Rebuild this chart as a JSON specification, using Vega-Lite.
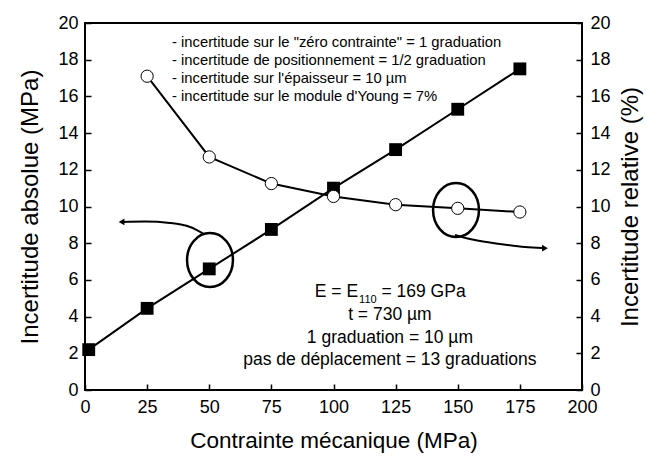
{
  "$schema": "https://vega.github.io/schema/vega-lite/v6.json",
  "width": 497,
  "height": 367,
  "autosize": {"type": "none"},
  "padding": {"left": 85, "top": 23, "right": 64, "bottom": 75},
  "background": "white",
  "config": {
    "view": {"stroke": "black", "strokeWidth": 2},
    "font": "Liberation Sans",
    "axis": {
      "domain": false, "ticks": true, "tickColor": "black", "tickWidth": 1.5, "tickOpacity": 1, "zindex": 1,
      "labelFont": "Liberation Sans", "labelFontSize": 18, "labelColor": "black",
      "titleFont": "Liberation Sans", "titleFontSize": 22.5, "titleFontWeight": "normal", "titleColor": "black",
      "grid": false, "labelOverlap": false, "labelFlush": false
    }
  },
  "datasets": {
    "main": [
      {"x": 1.5, "abs": 2.2, "rel": null},
      {"x": 25, "abs": 4.45, "rel": 17.1},
      {"x": 50, "abs": 6.6, "rel": 12.7},
      {"x": 75, "abs": 8.75, "rel": 11.25},
      {"x": 100, "abs": 11.0, "rel": 10.55},
      {"x": 125, "abs": 13.1, "rel": 10.1},
      {"x": 150, "abs": 15.3, "rel": 9.9},
      {"x": 175, "abs": 17.5, "rel": 9.7}
    ],
    "xmaj": [{"v": 25}, {"v": 50}, {"v": 75}, {"v": 100}, {"v": 125}, {"v": 150}, {"v": 175}],
    "xmin": [{"v": 12.5}, {"v": 37.5}, {"v": 62.5}, {"v": 87.5}, {"v": 112.5}, {"v": 137.5}, {"v": 162.5}, {"v": 187.5}],
    "ymaj": [{"v": 2}, {"v": 4}, {"v": 6}, {"v": 8}, {"v": 10}, {"v": 12}, {"v": 14}, {"v": 16}, {"v": 18}],
    "ymin": [{"v": 1}, {"v": 3}, {"v": 5}, {"v": 7}, {"v": 9}, {"v": 11}, {"v": 13}, {"v": 15}, {"v": 17}, {"v": 19}],
    "arrows": [
      {"id": "a", "x": 14.9, "y": 9.16},
      {"id": "a", "x": 24.1, "y": 9.18},
      {"id": "a", "x": 34.2, "y": 9.1},
      {"id": "a", "x": 42.3, "y": 8.88},
      {"id": "a", "x": 47.9, "y": 8.5},
      {"id": "b", "x": 148.9, "y": 8.45},
      {"id": "b", "x": 156.9, "y": 8.17},
      {"id": "b", "x": 167.0, "y": 7.96},
      {"id": "b", "x": 177.1, "y": 7.79},
      {"id": "b", "x": 184.3, "y": 7.74}
    ],
    "heads": [
      {"x": 14.7, "y": 9.16, "shape": "triangle-left"},
      {"x": 185.1, "y": 7.73, "shape": "triangle-right"}
    ],
    "ellipses": [
      {"x": 50.3, "y": 7.08},
      {"x": 149.3, "y": 9.81}
    ],
    "notes": [
      {"x": 35, "y": 18.91, "label": "- incertitude sur le \"zéro contrainte\" = 1 graduation"},
      {"x": 35, "y": 17.93, "label": "- incertitude de positionnement = 1/2 graduation"},
      {"x": 35, "y": 16.95, "label": "- incertitude sur l'épaisseur = 10 µm"},
      {"x": 35, "y": 15.97, "label": "- incertitude sur le module d'Young = 7%"}
    ],
    "params": [
      {"x": 122.7, "y": 4.09, "label": "t = 730 µm"},
      {"x": 122.7, "y": 2.83, "label": "1 graduation = 10 µm"},
      {"x": 122.7, "y": 1.63, "label": "pas de déplacement = 13 graduations"}
    ],
    "eline": [
      {"x": 109.9, "y": 5.34, "label": "E = E", "part": "a"},
      {"x": 110.3, "y": 4.9, "label": "110", "part": "b"},
      {"x": 119.3, "y": 5.34, "label": "= 169 GPa", "part": "c"}
    ]
  },
  "encoding": {
    "x": {"field": "x", "type": "quantitative", "scale": {"domain": [0, 200], "nice": false, "zero": false}, "axis": null},
    "y": {"field": "y", "type": "quantitative", "scale": {"domain": [0, 20], "nice": false}, "axis": null}
  },
  "layer": [
    {
      "data": {"name": "xmaj"},
      "mark": {"type": "rule", "color": "black", "strokeWidth": 2, "opacity": 1},
      "encoding": {
        "x": {"field": "v", "type": "quantitative", "scale": {"domain": [0, 200], "nice": false, "zero": false}, "axis": null},
        "y": {"datum": 0, "type": "quantitative", "scale": {"domain": [0, 20], "nice": false}, "axis": null},
        "y2": {"datum": 0.36}
      }
    },
    {
      "data": {"name": "xmaj"},
      "mark": {"type": "rule", "color": "black", "strokeWidth": 2, "opacity": 1},
      "encoding": {
        "x": {"field": "v", "type": "quantitative", "scale": {"domain": [0, 200], "nice": false, "zero": false}, "axis": null},
        "y": {"datum": 20, "type": "quantitative", "scale": {"domain": [0, 20], "nice": false}, "axis": null},
        "y2": {"datum": 19.64}
      }
    },
    {
      "data": {"name": "xmin"},
      "mark": {"type": "rule", "color": "black", "strokeWidth": 2, "opacity": 1},
      "encoding": {
        "x": {"field": "v", "type": "quantitative", "scale": {"domain": [0, 200], "nice": false, "zero": false}, "axis": null},
        "y": {"datum": 0, "type": "quantitative", "scale": {"domain": [0, 20], "nice": false}, "axis": null},
        "y2": {"datum": 0.2}
      }
    },
    {
      "data": {"name": "xmin"},
      "mark": {"type": "rule", "color": "black", "strokeWidth": 2, "opacity": 1},
      "encoding": {
        "x": {"field": "v", "type": "quantitative", "scale": {"domain": [0, 200], "nice": false, "zero": false}, "axis": null},
        "y": {"datum": 20, "type": "quantitative", "scale": {"domain": [0, 20], "nice": false}, "axis": null},
        "y2": {"datum": 19.8}
      }
    },
    {
      "data": {"name": "ymaj"},
      "mark": {"type": "rule", "color": "black", "strokeWidth": 2, "opacity": 1},
      "encoding": {
        "x": {"datum": 0, "type": "quantitative", "scale": {"domain": [0, 200], "nice": false, "zero": false}, "axis": null},
        "x2": {"datum": 2.7},
        "y": {"field": "v", "type": "quantitative", "scale": {"domain": [0, 20], "nice": false}, "axis": null}
      }
    },
    {
      "data": {"name": "ymaj"},
      "mark": {"type": "rule", "color": "black", "strokeWidth": 2, "opacity": 1},
      "encoding": {
        "x": {"datum": 200, "type": "quantitative", "scale": {"domain": [0, 200], "nice": false, "zero": false}, "axis": null},
        "x2": {"datum": 197.3},
        "y": {"field": "v", "type": "quantitative", "scale": {"domain": [0, 20], "nice": false}, "axis": null}
      }
    },
    {
      "data": {"name": "ymin"},
      "mark": {"type": "rule", "color": "black", "strokeWidth": 2, "opacity": 1},
      "encoding": {
        "x": {"datum": 0, "type": "quantitative", "scale": {"domain": [0, 200], "nice": false, "zero": false}, "axis": null},
        "x2": {"datum": 1.5},
        "y": {"field": "v", "type": "quantitative", "scale": {"domain": [0, 20], "nice": false}, "axis": null}
      }
    },
    {
      "data": {"name": "ymin"},
      "mark": {"type": "rule", "color": "black", "strokeWidth": 2, "opacity": 1},
      "encoding": {
        "x": {"datum": 200, "type": "quantitative", "scale": {"domain": [0, 200], "nice": false, "zero": false}, "axis": null},
        "x2": {"datum": 198.5},
        "y": {"field": "v", "type": "quantitative", "scale": {"domain": [0, 20], "nice": false}, "axis": null}
      }
    },
    {
      "data": {"name": "main"},
      "mark": {"type": "line", "color": "black", "strokeWidth": 2},
      "encoding": {"y": {"field": "abs", "type": "quantitative", "scale": {"domain": [0, 20], "nice": false}, "axis": null}}
    },
    {
      "data": {"name": "main"},
      "mark": {"type": "point", "shape": "square", "filled": true, "color": "black", "size": 165, "opacity": 1},
      "encoding": {"y": {"field": "abs", "type": "quantitative", "scale": {"domain": [0, 20], "nice": false}, "axis": null}}
    },
    {
      "data": {"name": "main"},
      "transform": [{"filter": "datum.rel != null"}],
      "mark": {"type": "line", "color": "black", "strokeWidth": 2},
      "encoding": {"y": {"field": "rel", "type": "quantitative", "scale": {"domain": [0, 20], "nice": false}, "axis": null}}
    },
    {
      "data": {"name": "main"},
      "transform": [{"filter": "datum.rel != null"}],
      "mark": {"type": "point", "shape": "circle", "filled": true, "fill": "white", "stroke": "black", "strokeWidth": 1, "size": 150, "opacity": 1},
      "encoding": {"y": {"field": "rel", "type": "quantitative", "scale": {"domain": [0, 20], "nice": false}, "axis": null}}
    },
    {
      "data": {"name": "arrows"},
      "mark": {"type": "line", "color": "black", "strokeWidth": 2, "interpolate": "monotone"},
      "encoding": {"detail": {"field": "id"}}
    },
    {
      "data": {"name": "heads"},
      "mark": {"type": "point", "filled": true, "color": "black", "size": 45, "opacity": 1},
      "encoding": {"shape": {"field": "shape", "type": "nominal", "scale": null, "legend": null}}
    },
    {
      "data": {"name": "ellipses"},
      "mark": {"type": "point", "filled": false, "color": "black", "strokeWidth": 2.5, "opacity": 1, "size": 2916,
               "shape": "M-0.85,0A0.85,1,0,1,0,0.85,0A0.85,1,0,1,0,-0.85,0Z"}
    },
    {
      "data": {"name": "notes"},
      "mark": {"type": "text", "align": "left", "baseline": "middle", "fontSize": 14.8, "font": "Liberation Sans", "color": "black"},
      "encoding": {"text": {"field": "label"}}
    },
    {
      "data": {"name": "params"},
      "mark": {"type": "text", "align": "center", "baseline": "middle", "fontSize": 17.5, "font": "Liberation Sans", "color": "black"},
      "encoding": {"text": {"field": "label"}}
    },
    {
      "data": {"name": "eline"},
      "transform": [{"filter": "datum.part === 'a'"}],
      "mark": {"type": "text", "align": "right", "baseline": "middle", "fontSize": 17.5, "font": "Liberation Sans", "color": "black"},
      "encoding": {"text": {"field": "label"}}
    },
    {
      "data": {"name": "eline"},
      "transform": [{"filter": "datum.part === 'b'"}],
      "mark": {"type": "text", "align": "left", "baseline": "middle", "fontSize": 11, "font": "Liberation Sans", "color": "black"},
      "encoding": {"text": {"field": "label"}}
    },
    {
      "data": {"name": "eline"},
      "transform": [{"filter": "datum.part === 'c'"}],
      "mark": {"type": "text", "align": "left", "baseline": "middle", "fontSize": 17.5, "font": "Liberation Sans", "color": "black"},
      "encoding": {"text": {"field": "label"}}
    },
    {
      "data": {"name": "main"},
      "mark": {"type": "point", "opacity": 0},
      "encoding": {
        "x": {
          "field": "x", "type": "quantitative",
          "scale": {"domain": [0, 200], "nice": false, "zero": false},
          "axis": {
            "orient": "bottom", "values": [0, 25, 50, 75, 100, 125, 150, 175, 200],
            "offset": -6, "tickSize": 6, "labelPadding": 8, "labelOverlap": false, "zindex": 1,
            "title": "Contrainte mécanique (MPa)", "titlePadding": 13
          }
        },
        "y": {
          "field": "abs", "type": "quantitative",
          "scale": {"domain": [0, 20], "nice": false},
          "axis": {
            "orient": "left", "values": [0, 2, 4, 6, 8, 10, 12, 14, 16, 18, 20],
            "offset": -6, "tickSize": 6, "labelPadding": 7, "labelOverlap": false, "zindex": 1,
            "title": "Incertitude absolue (MPa)", "titleFontSize": 24, "titlePadding": 15
          }
        }
      }
    },
    {
      "data": {"name": "main"},
      "mark": {"type": "point", "opacity": 0},
      "encoding": {
        "x": {"field": "x", "type": "quantitative", "scale": {"domain": [0, 200], "nice": false, "zero": false}, "axis": null},
        "y": {
          "field": "abs", "type": "quantitative",
          "scale": {"domain": [0, 20], "nice": false},
          "axis": {
            "orient": "right", "values": [0, 2, 4, 6, 8, 10, 12, 14, 16, 18, 20],
            "offset": -6, "tickSize": 6, "labelPadding": 8, "labelOverlap": false, "zindex": 1,
            "title": "Incertitude relative (%)", "titleFontSize": 24, "titleAngle": 270, "titleBaseline": "top", "titlePadding": 8
          }
        }
      }
    }
  ],
  "resolve": {"scale": {"x": "independent", "y": "independent"}}
}
